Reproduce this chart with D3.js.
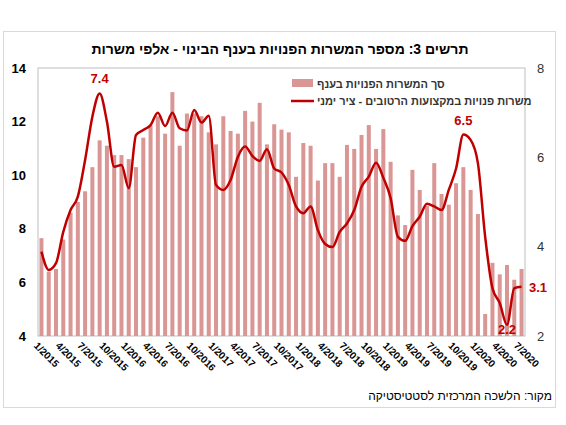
<!DOCTYPE html>
<html><head><meta charset="utf-8">
<script src="https://cdn.jsdelivr.net/npm/d3@7/dist/d3.min.js"></script>
<style>body{margin:0;background:#fff}</style></head>
<body><svg id="c" width="566" height="425"></svg>
<script>
const barValues=[7.65,6.4,6.5,7.6,8.6,9.0,9.4,10.3,11.3,11.1,10.75,10.75,10.6,10.3,11.4,11.85,12.2,11.55,13.1,11.1,12.3,12.3,12.2,11.6,11.15,12.2,11.65,11.55,12.4,12.0,12.7,11.15,11.9,11.7,11.6,
9.94,11.2,11.1,9.8,10.45,10.45,9.94,11.13,10.98,11.5,11.87,10.98,11.72,10.5,8.5,8.14,10.2,9.45,8.85,10.45,9.3,8.9,9.7,10.3,9.45,8.55,4.82,6.73,6.3,6.65,6.1,6.5];
const lineValues=[3.89,3.48,3.63,4.33,4.82,5.12,5.94,6.91,7.43,6.8,5.79,5.83,5.31,6.5,6.61,6.72,7.0,6.7,7.0,6.65,6.6,7.06,6.78,6.93,5.38,5.27,5.49,6.01,6.24,6.03,5.92,6.18,5.75,5.66,5.38,
4.9,4.75,4.9,4.37,4.06,3.99,4.33,4.52,4.82,5.34,5.57,5.88,5.54,5.09,4.22,4.13,4.46,4.67,4.96,4.9,4.82,5.27,5.75,6.51,6.39,5.87,4.22,3.07,2.74,2.25,3.07,3.1];
const months=barValues.map((d,i)=>{const m=i%12+1,y=2015+Math.floor(i/12);return m+"/"+y;});
const leftTicks=[4,6,8,10,12,14], rightTicks=[2,4,6,8];
const annotations=[{i:8,t:"7.4",dy:-10},{i:58,t:"6.5",dy:-10}];
const title="תרשים 3: מספר המשרות הפנויות בענף הבינוי - אלפי משרות";
const legendBar="סך המשרות הפנויות בענף", legendLine="משרות פנויות במקצועות הרטובים - ציר ימני";
const source="מקור: הלשכה המרכזית לסטטיסטיקה";

const svg=d3.select("#c"), F="Arial, 'Liberation Sans', sans-serif";
const L=38,R=525,T=68,B=336;
svg.append("rect").attr("x",3.5).attr("y",31.5).attr("width",552).attr("height",376).attr("fill","#fff").attr("stroke","#d9d9d9");
svg.append("text").attr("x",280).attr("y",54).attr("text-anchor","middle").attr("font-family",F).attr("font-weight","bold").attr("font-size",14).text(title);
const x=d3.scaleBand().domain(d3.range(barValues.length)).range([L,R]).paddingInner(0.45).paddingOuter(0.2);
const yl=d3.scaleLinear().domain([4,14]).range([B,T]);
const yr=d3.scaleLinear().domain([2,8]).range([B,T]);
svg.append("rect").attr("x",L).attr("y",T).attr("width",R-L).attr("height",B-T).attr("fill","none").attr("stroke","#bfbfbf");
svg.selectAll(".b").data(barValues).join("rect").attr("x",(d,i)=>x(i)).attr("width",x.bandwidth())
 .attr("y",d=>yl(d)).attr("height",d=>B-yl(d)).attr("fill","#d99694");
const line=d3.line().x((d,i)=>x(i)+x.bandwidth()/2).y(d=>yr(d)).curve(d3.curveMonotoneX);
svg.append("path").datum(lineValues).attr("d",line).attr("fill","none").attr("stroke","#c00000").attr("stroke-width",2.5);
const ga=svg.append("g").attr("transform",`translate(${L},0)`).call(d3.axisLeft(yl).tickValues(leftTicks).tickSize(0).tickPadding(12));
ga.select(".domain").remove();ga.selectAll("text").attr("font-family",F).attr("font-weight","bold").attr("font-size",13).attr("fill","#000");
const gr=svg.append("g").attr("transform",`translate(${R},0)`).call(d3.axisRight(yr).tickValues(rightTicks).tickFormat(d3.format("d")).tickSize(0).tickPadding(12));
gr.select(".domain").remove();gr.selectAll("text").attr("font-family",F).attr("font-size",13).attr("fill","#333");
const gx=svg.append("g").attr("transform",`translate(0,${B})`).call(d3.axisBottom(x).tickValues(d3.range(0,67,3)).tickFormat(i=>months[i]).tickSize(0));
gx.select(".domain").remove();
gx.selectAll("text").attr("font-family",F).attr("font-weight","bold").attr("font-size",10).attr("fill","#000")
 .attr("text-anchor","start").attr("transform","translate(-4,6) rotate(45)").attr("dy","0.3em");
annotations.forEach(a=>svg.append("text").attr("x",x(a.i)+x.bandwidth()/2).attr("y",yr(lineValues[a.i])+a.dy).attr("text-anchor","middle")
 .attr("font-family",F).attr("font-weight","bold").attr("font-size",13).attr("fill","#c00000").text(a.t));
svg.append("text").attr("x",x(64)+x.bandwidth()/2).attr("y",B-2).attr("text-anchor","middle").attr("font-family",F).attr("font-weight","bold").attr("font-size",13).attr("fill","#c00000").text("2.2");
svg.append("text").attr("x",R+4).attr("y",yr(3.1)+5).attr("font-family",F).attr("font-weight","bold").attr("font-size",13).attr("fill","#c00000").text("3.1");
svg.append("rect").attr("x",292).attr("y",79).attr("width",21).attr("height",8).attr("fill","#d99694");
svg.append("line").attr("x1",291).attr("x2",314).attr("y1",101).attr("y2",101).attr("stroke","#c00000").attr("stroke-width",2.5);
svg.append("text").attr("x",317).attr("y",88).attr("text-anchor","start").attr("font-family",F).attr("font-size",11).attr("font-weight","bold").attr("fill","#333").text(legendBar);
svg.append("text").attr("x",317).attr("y",105).attr("text-anchor","start").attr("font-family",F).attr("font-size",11).attr("font-weight","bold").attr("fill","#333").text(legendLine);
svg.append("text").attr("x",552).attr("y",400).attr("text-anchor","end").attr("font-family",F).attr("font-size",12).attr("fill","#000").text(source);
</script></body></html>
